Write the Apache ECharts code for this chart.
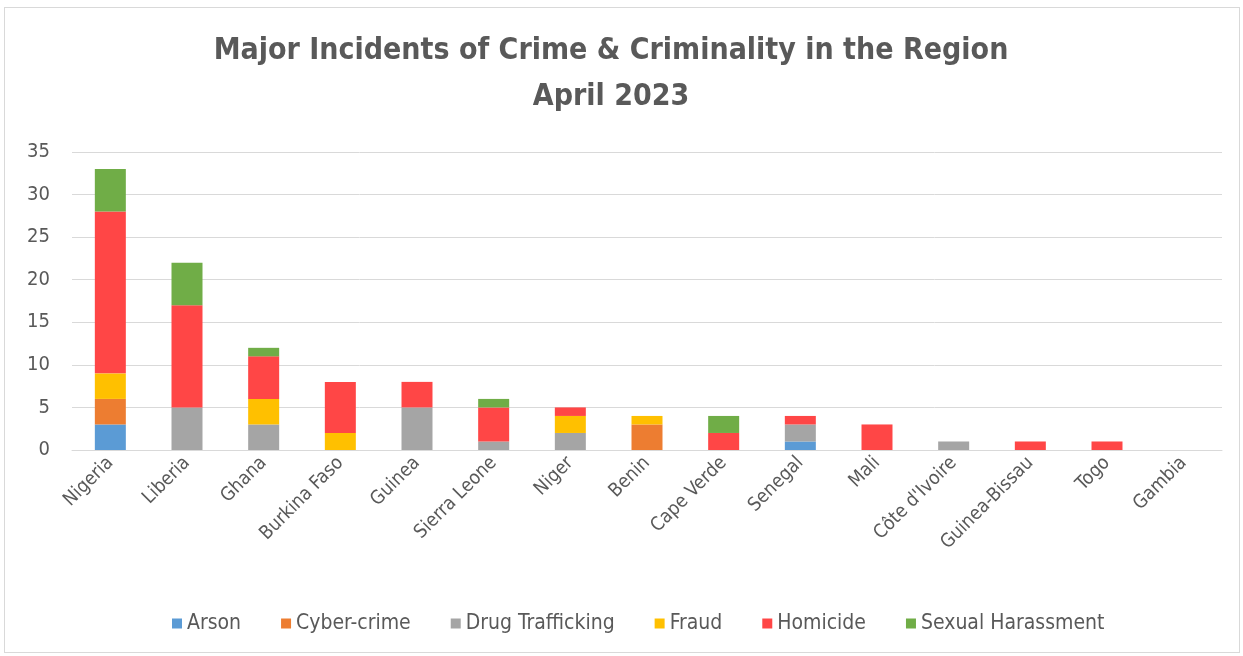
<!DOCTYPE html>
<html>
<head>
<meta charset="utf-8">
<script src="https://cdn.jsdelivr.net/npm/echarts@6/dist/echarts.min.js"></script>
<style>
  html, body { margin: 0; padding: 0; background: #ffffff; }
  #frame { position: absolute; left: 4px; top: 7px; width: 1236px; height: 646px; border: 1px solid #d9d9d9; box-sizing: border-box; }
  #chart { position: absolute; left: 0; top: 0; width: 1243px; height: 656px; }
</style>
</head>
<body>
<div id="frame"></div>
<div id="chart"></div>
<script>
const countries = ['Nigeria', 'Liberia', 'Ghana', 'Burkina Faso', 'Guinea', 'Sierra Leone', 'Niger', 'Benin', 'Cape Verde', 'Senegal', 'Mali', "Côte d'Ivoire", 'Guinea-Bissau', 'Togo', 'Gambia'];
const arson            = [3, 0, 0, 0, 0, 0, 0, 0, 0, 1, 0, 0, 0, 0, 0];
const cyberCrime       = [3, 0, 0, 0, 0, 0, 0, 3, 0, 0, 0, 0, 0, 0, 0];
const drugTrafficking  = [0, 5, 3, 0, 5, 1, 2, 0, 0, 2, 0, 1, 0, 0, 0];
const fraud            = [3, 0, 3, 2, 0, 0, 2, 1, 0, 0, 0, 0, 0, 0, 0];
const homicide         = [19, 12, 5, 6, 3, 4, 1, 0, 2, 1, 3, 0, 1, 1, 0];
const sexualHarassment = [5, 5, 1, 0, 0, 1, 0, 0, 2, 0, 0, 0, 0, 0, 0];

const seriesDefs = [
  ['Arson', arson, '#5b9bd5'],
  ['Cyber-crime', cyberCrime, '#ed7d31'],
  ['Drug Trafficking', drugTrafficking, '#a5a5a5'],
  ['Fraud', fraud, '#ffc000'],
  ['Homicide', homicide, '#ff4646'],
  ['Sexual Harassment', sexualHarassment, '#70ad47']
];

const font = "'Liberation Sans Narrow', 'DejaVu Sans Condensed', 'Open Sans', sans-serif";
const chart = echarts.init(document.getElementById('chart'));
chart.setOption({
  animation: false,
  title: {
    text: 'Major Incidents of Crime & Criminality in the Region\nApril 2023',
    left: 606,
    textAlign: 'center',
    top: 23,
    textStyle: { fontFamily: font, fontSize: 30, fontWeight: 'bold', color: '#595959', lineHeight: 46 }
  },
  legend: {
    bottom: 17,
    left: 167,
    itemWidth: 10,
    itemHeight: 10,
    itemGap: 40,
    icon: 'rect',
    textStyle: { fontFamily: font, fontSize: 21, color: '#595959' }
  },
  grid: { left: 72, right: 21, top: 152, bottom: 206 },
  xAxis: {
    type: 'category',
    data: countries,
    axisLine: { show: true, lineStyle: { color: '#d9d9d9', width: 1 } },
    axisTick: { show: false },
    axisLabel: { rotate: 45, interval: 0, fontFamily: font, fontSize: 19, color: '#595959', margin: 10 }
  },
  yAxis: {
    type: 'value',
    min: 0,
    max: 35,
    interval: 5,
    axisLine: { show: false },
    axisTick: { show: false },
    splitLine: { lineStyle: { color: '#d9d9d9', width: 1 } },
    axisLabel: { fontFamily: font, fontSize: 20, color: '#595959', margin: 22 }
  },
  series: seriesDefs.map(([name, values, color]) => ({
    name,
    type: 'bar',
    stack: 'total',
    data: values,
    barWidth: 31,
    itemStyle: { color }
  }))
});
</script>
</body>
</html>
